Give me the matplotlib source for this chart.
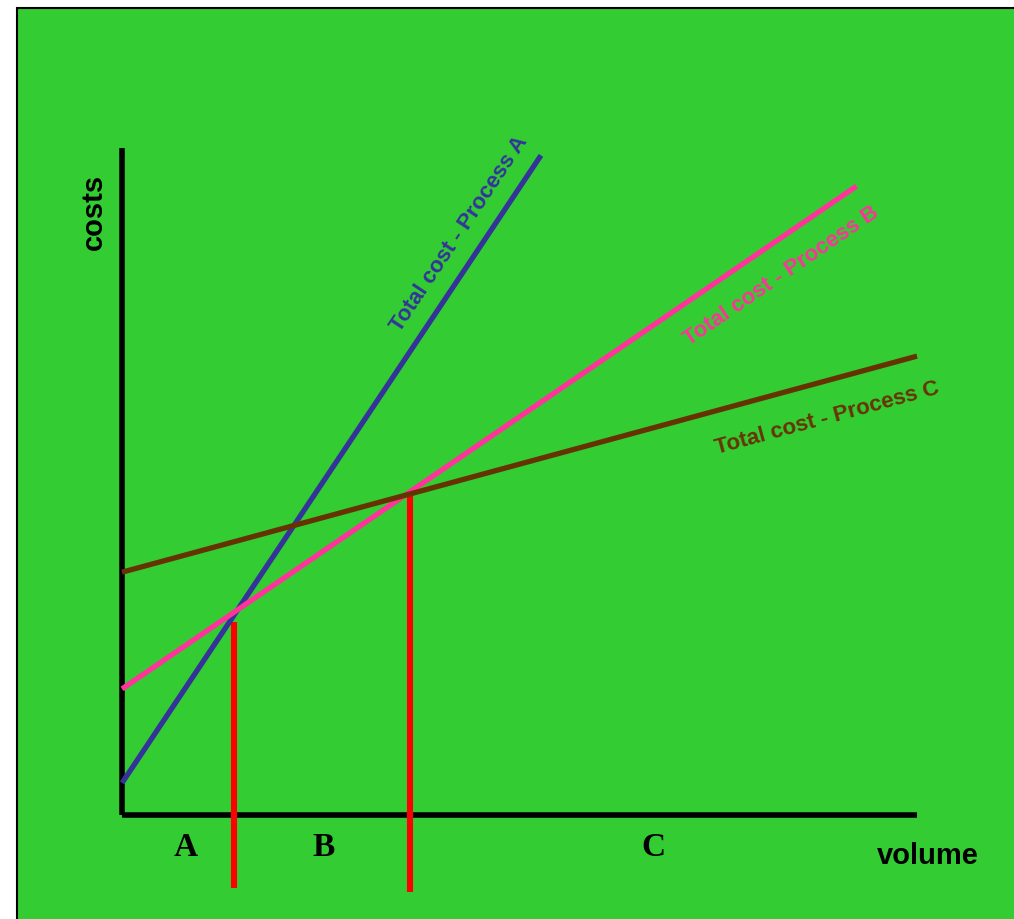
import matplotlib
matplotlib.use("Agg")
import matplotlib.pyplot as plt
from matplotlib.patches import Rectangle

# break-even chart: total cost lines for three processes
processes = ["A", "B", "C"]
line_labels = ["Total cost - Process A", "Total cost - Process B", "Total cost - Process C"]
line_colors = ["#333399", "#FF3399", "#663300"]
volume_end = [52.7, 92.4, 100.0]
cost_start = [4.8, 18.9, 36.4]
cost_end = [98.9, 94.3, 68.8]

# break-even volumes (red markers) and their top cost
breakeven_volume = [14.1, 36.2]
breakeven_cost = [28.9, 48.0]
breakeven_bottom = [-10.9, -11.5]

# region letters along the volume axis
region_x = [8.05, 25.3, 66.8]

fig = plt.figure(figsize=(10.14, 9.19), dpi=100)
fig.patch.set_facecolor("white")
fig.patches.append(Rectangle((17 / 1014, -0.5), 2.0, 1.5 - 8 / 919,
                             transform=fig.transFigure, facecolor="#33CC33",
                             edgecolor="black", linewidth=1.5, zorder=-5))

ax = fig.add_axes([0, 0, 1, 1])
ax.set_facecolor("none")
ax.set_xlim(-15.35, 112.2)
ax.set_ylim(-15.6, 122.2)
ax.axis("off")

# axes drawn as thick black lines
ax.plot([0, 0], [0, 100], color="black", lw=4.0, solid_capstyle="butt")
ax.plot([0, 100], [0, 0], color="black", lw=4.0, solid_capstyle="butt")

for i in range(len(processes)):
    ax.plot([0, volume_end[i]], [cost_start[i], cost_end[i]],
            color=line_colors[i], lw=3.8, solid_capstyle="butt", zorder=3)

for i in range(len(breakeven_volume)):
    ax.plot([breakeven_volume[i]] * 2, [breakeven_bottom[i], breakeven_cost[i]],
            color="#FF0000", lw=4.4, solid_capstyle="butt", zorder=2)

label_pos = [(42.4, 87.1), (82.9, 80.8), (88.7, 59.5)]
label_rot = [56.3, 34.4, 15.2]
for i in range(len(processes)):
    ax.text(label_pos[i][0], label_pos[i][1], line_labels[i], color=line_colors[i],
            rotation=label_rot[i], rotation_mode="anchor", ha="center", va="center",
            fontsize=16, fontweight="bold", family="Liberation Sans")

for i in range(len(processes)):
    ax.text(region_x[i], -4.95, processes[i], ha="center", va="center",
            fontsize=24, fontweight="bold", family="Liberation Serif")

ax.text(101.3, -6.1, "volume", ha="center", va="center", fontsize=21,
        fontweight="bold", family="Liberation Sans")
ax.text(-3.5, 90.4, "costs", ha="center", va="center", rotation=90, fontsize=21,
        fontweight="bold", family="Liberation Sans")

fig.savefig("out.png", dpi=100, facecolor=fig.get_facecolor())
